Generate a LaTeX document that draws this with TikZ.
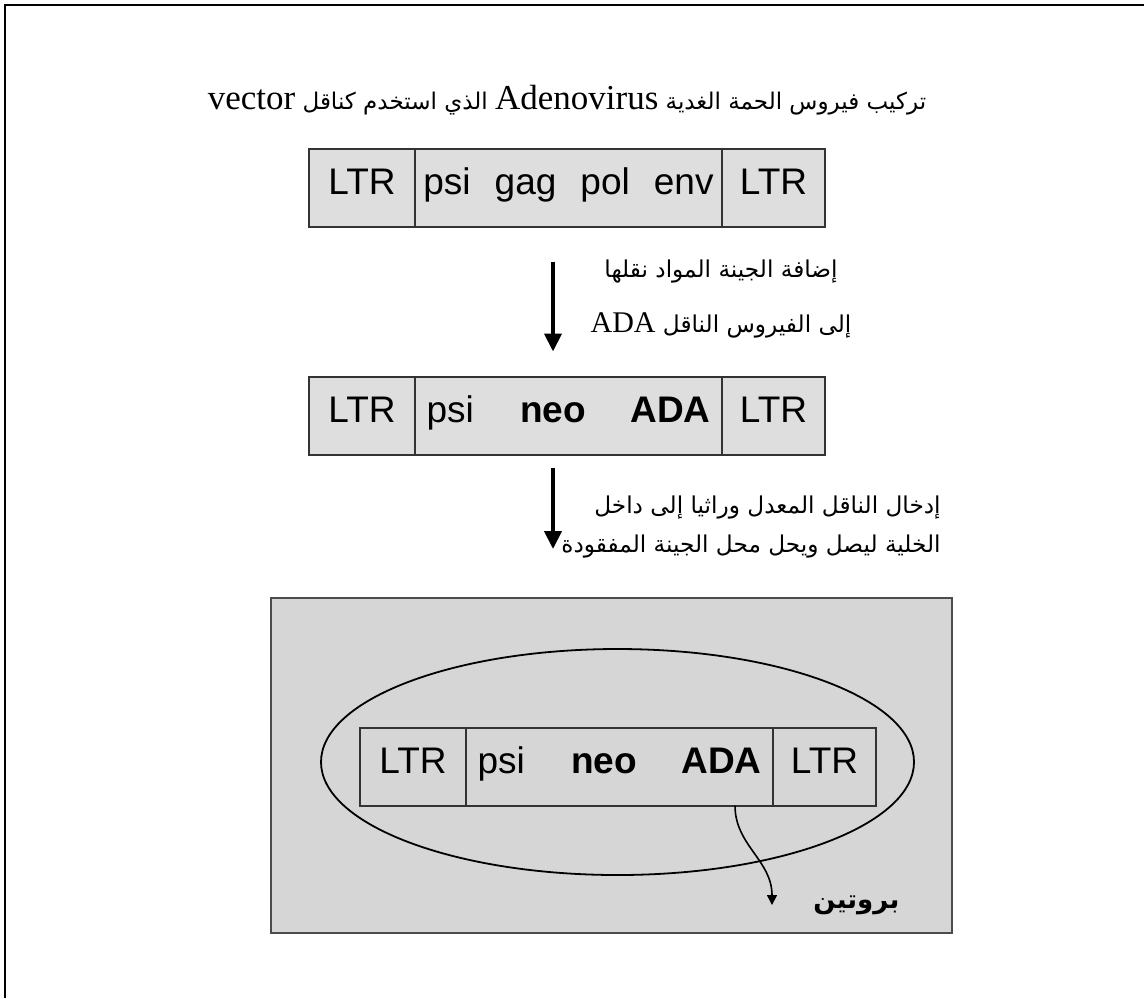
\documentclass[tikz,border=0pt]{standalone}
\usepackage{fontspec}
\setmainfont{Liberation Serif}
\newfontfamily\boxfont{Liberation Sans}
\newfontfamily\arabicfont[Script=Arabic]{DejaVu Sans}
\TeXXeTstate=1
\usetikzlibrary{positioning,shapes.geometric,arrows.meta}
\definecolor{boxgray}{HTML}{DEDEDE}
\definecolor{cellgray}{HTML}{D6D6D6}
\tikzset{
  gene/.style={draw=black!80, line width=1pt, fill=boxgray, minimum height=39pt,
    inner sep=0pt, outer sep=0pt, text height=10.8pt, text depth=4pt,
    font=\boxfont\fontsize{18.5}{20}\selectfont},
  bigarrow/.style={line width=2pt, -{Triangle[width=8.5pt,length=9pt]}},
  thinarrow/.style={line width=0.8pt, -{Triangle[width=5pt,length=5pt]}},
  arlabel/.style={inner sep=0pt, font=\arabicfont\fontsize{11.6}{27.5}\selectfont},
  latin/.style={}
}
\newcommand{\lat}[1]{{\rmfamily\fontsize{15}{18}\selectfont\beginL #1\endL}}
\begin{document}
\begin{tikzpicture}[x=0.5pt, y=-0.5pt]
    \useasboundingbox (0,0) rectangle (1144,998);
    \draw[line width=1pt] (5,998) -- (5,5) -- (1144,5);

    \node (title) at (567,100) [font=\arabicfont\fontsize{11.5}{18}\selectfont]
      {\beginR تركيب فيروس الحمة الغدية {\rmfamily\fontsize{17.5}{18}\selectfont\beginL Adenovirus\endL} الذي استخدم كناقل {\rmfamily\fontsize{17.5}{18}\selectfont\beginL vector\endL}\endR};

    % original vector
    \node (L1) [gene, minimum width=53pt] at (362,187.5) {LTR};
    \node (M1) [gene, minimum width=153.5pt, right=0pt of L1]
      {psi\hspace{0.65em}gag\hspace{0.65em}pol\hspace{0.65em}env};
    \node (R1) [gene, minimum width=51.5pt, right=0pt of M1] {LTR};

    % vector with ADA
    \node (L2) [gene, minimum width=53pt] at (362,415.5) {LTR};
    \node (M2) [gene, minimum width=153.5pt, right=0pt of L2]
      {psi\hspace{1.25em}\textbf{neo}\hspace{1.2em}\textbf{ADA}};
    \node (R2) [gene, minimum width=51.5pt, right=0pt of M2] {LTR};

    \draw[bigarrow, shorten <=17.5pt, shorten >=12.5pt]
      ([xshift=-7.75pt]M1.south) -- ([xshift=-7.75pt]M2.north);
    \node (addlbl) [arlabel, align=center] at (721,299.5)
      {\beginR إضافة الجينة المواد نقلها\endR\\
       \beginR إلى الفيروس الناقل \lat{ADA}\endR};

    % the cell
    \node (cellbg) [draw=black!70, line width=1pt, fill=cellgray,
      minimum width=340.5pt, minimum height=167.5pt] at (611.5,765.5) {};
    \draw[bigarrow, shorten <=6.5pt, shorten >=24pt]
      ([xshift=-7.75pt]M2.south) -- ([xshift=-7.75pt]M2.south |- cellbg.north);
    \node (insertlbl) [arlabel, align=right, anchor=east,
      font=\arabicfont\fontsize{11.6}{19.5}\selectfont] at (941,527.5)
      {\beginR إدخال الناقل المعدل وراثيا إلى داخل\endR\\
       \beginR الخلية ليصل ويحل محل الجينة المفقودة\endR};

    \node (ring) [ellipse, draw, line width=0.9pt, minimum width=296.5pt,
      minimum height=113pt, inner sep=0pt] at (617.5,762) {};

    \node (L3) [gene, fill=none, minimum width=53pt] at (413,766.5) {LTR};
    \node (M3) [gene, fill=none, minimum width=153.5pt, right=0pt of L3]
      {psi\hspace{1.25em}\textbf{neo}\hspace{1.2em}\textbf{ADA}};
    \node (R3) [gene, fill=none, minimum width=51.5pt, right=0pt of M3] {LTR};

    \coordinate (ptip) at (772,905);
    \draw[thinarrow] ([xshift=57.75pt]M3.south)
      .. controls +(0,40) and +(0,-45) .. (ptip);
    \node (protein) [right=20.5pt of ptip, inner sep=0pt,
      font=\arabicfont\bfseries\fontsize{13}{16}\selectfont] {\beginR بروتين\endR};
  \end{tikzpicture}
\end{document}
